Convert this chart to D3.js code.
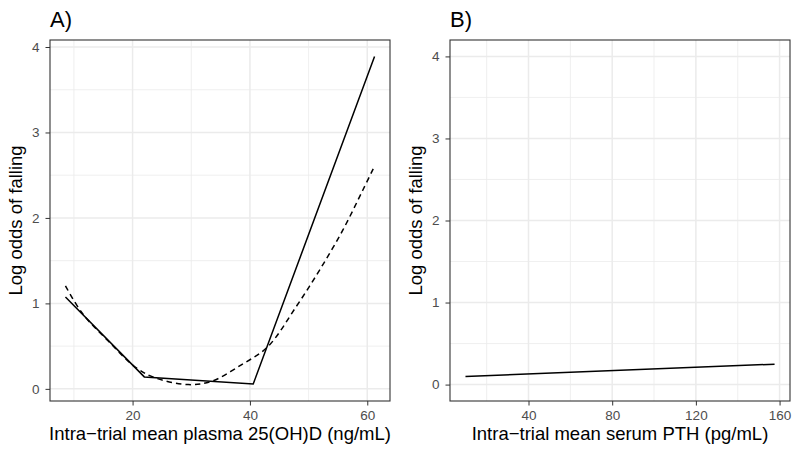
<!DOCTYPE html>
<html>
<head>
<meta charset="utf-8">
<script src="https://cdn.jsdelivr.net/npm/d3@7"></script>
<style>
  html, body { margin: 0; padding: 0; background: #fff; }
  svg { display: block; font-family: "Liberation Sans", Arial, Helvetica, sans-serif; }
</style>
</head>
<body>
<svg id="chart" width="800" height="457"></svg>
<script>
// ---- Data ----
// Panel A: 25(OH)D
const aSolidX = [8.56, 22.0, 40.56, 61.24];
const aSolidY = [1.074, 0.14, 0.056, 3.89];
const aDashX = [8.56, 11.4, 15.9, 20.5, 23.9, 29.5, 33.5, 38.6, 43.0, 47.9, 51.9, 55.85, 59.25, 61.24];
const aDashY = [1.206, 0.887, 0.556, 0.252, 0.128, 0.05, 0.089, 0.284, 0.49, 0.964, 1.393, 1.86, 2.327, 2.607];
const aXTicks = [20, 40, 60];
const aXMinor = [10, 30, 50];
const aYTicks = [0, 1, 2, 3, 4];
const aYMinor = [0.5, 1.5, 2.5, 3.5];
// Panel B: PTH
const bLineX = [9.86, 157.6];
const bLineY = [0.098, 0.249];
const bXTicks = [40, 80, 120, 160];
const bXMinor = [20, 60, 100, 140];
const bYTicks = [0, 1, 2, 3, 4];
const bYMinor = [0.5, 1.5, 2.5, 3.5];
const bYLimits = [0, 4];

const panelTitles = ["A)", "B)"];
const xTitles = ["Intra\u2212trial mean plasma 25(OH)D (ng/mL)", "Intra\u2212trial mean serum PTH (pg/mL)"];
const yTitle = "Log odds of falling";

// ---- Layout ----
const svg = d3.select("#chart");
const pTop = 40, pBottom = 401;
const panels = [
  { left: 50, right: 390 },
  { left: 450, right: 790 }
];

function expand(ext, f = 0.05) {
  const d = (ext[1] - ext[0]) * f;
  return [ext[0] - d, ext[1] + d];
}

function drawPanel(p, cfg) {
  const x = d3.scaleLinear().domain(cfg.xDomain).range([p.left, p.right]);
  const y = d3.scaleLinear().domain(cfg.yDomain).range([pBottom, pTop]);
  const g = svg.append("g");

  g.append("rect").attr("x", p.left).attr("y", pTop)
    .attr("width", p.right - p.left).attr("height", pBottom - pTop)
    .attr("fill", "#fff");

  // minor grid
  g.selectAll(".gxm").data(cfg.xMinor).join("line")
    .attr("x1", d => x(d)).attr("x2", d => x(d)).attr("y1", pTop).attr("y2", pBottom)
    .attr("stroke", "#EBEBEB").attr("stroke-width", 0.8);
  g.selectAll(".gym").data(cfg.yMinor).join("line")
    .attr("y1", d => y(d)).attr("y2", d => y(d)).attr("x1", p.left).attr("x2", p.right)
    .attr("stroke", "#EBEBEB").attr("stroke-width", 0.8);
  // major grid
  g.selectAll(".gx").data(cfg.xTicks).join("line")
    .attr("x1", d => x(d)).attr("x2", d => x(d)).attr("y1", pTop).attr("y2", pBottom)
    .attr("stroke", "#EBEBEB").attr("stroke-width", 1.5);
  g.selectAll(".gy").data(cfg.yTicks).join("line")
    .attr("y1", d => y(d)).attr("y2", d => y(d)).attr("x1", p.left).attr("x2", p.right)
    .attr("stroke", "#EBEBEB").attr("stroke-width", 1.5);

  // lines
  cfg.series.forEach(s => {
    const pts = s.x.map((v, i) => [v, s.y[i]]);
    const line = d3.line().x(d => x(d[0])).y(d => y(d[1]));
    if (s.smooth) line.curve(d3.curveCatmullRom.alpha(0.5));
    g.append("path").datum(pts).attr("d", line)
      .attr("fill", "none").attr("stroke", "#000").attr("stroke-width", 1.5)
      .attr("stroke-dasharray", s.dash || null);
  });

  // axes
  const xAxis = d3.axisBottom(x).tickValues(cfg.xTicks).tickSize(4.5).tickPadding(4.5).tickFormat(d3.format("d"));
  const yAxis = d3.axisLeft(y).tickValues(cfg.yTicks).tickSize(4.5).tickPadding(6).tickFormat(d3.format("d"));
  const gx = g.append("g").attr("transform", `translate(0,${pBottom})`).call(xAxis);
  const gy = g.append("g").attr("transform", `translate(${p.left},0)`).call(yAxis);
  [gx, gy].forEach(a => {
    a.select(".domain").remove();
    a.selectAll(".tick line").attr("stroke", "#333333").attr("stroke-width", 1);
    a.selectAll(".tick text").attr("fill", "#4D4D4D").attr("font-size", 13.5)
      .attr("font-family", "Liberation Sans, Arial, sans-serif");
  });

  // border
  g.append("rect").attr("x", p.left).attr("y", pTop)
    .attr("width", p.right - p.left).attr("height", pBottom - pTop)
    .attr("fill", "none").attr("stroke", "#333333").attr("stroke-width", 1.1);

  // titles
  g.append("text").attr("x", p.left).attr("y", 26.5)
    .attr("font-size", 22).attr("fill", "#000").text(cfg.title);
  g.append("text").attr("x", (p.left + p.right) / 2).attr("y", 439.5)
    .attr("text-anchor", "middle").attr("font-size", 18.5).attr("fill", "#000").text(cfg.xTitle);
  g.append("text")
    .attr("transform", `translate(${p.left - 28.3},${(pTop + pBottom) / 2}) rotate(-90)`)
    .attr("text-anchor", "middle").attr("font-size", 18.5).attr("fill", "#000").text(yTitle);
}

const aXDomain = expand(d3.extent([...aSolidX, ...aDashX]));
const aYDomain = expand(d3.extent([...aSolidY, ...aDashY]));
drawPanel(panels[0], {
  xDomain: aXDomain, yDomain: aYDomain,
  xTicks: aXTicks, xMinor: aXMinor, yTicks: aYTicks, yMinor: aYMinor,
  series: [
    { x: aSolidX, y: aSolidY },
    { x: aDashX, y: aDashY, dash: "5.5,4", smooth: true }
  ],
  title: panelTitles[0], xTitle: xTitles[0]
});

const bXDomain = expand(d3.extent(bLineX));
const bYDomain = expand(bYLimits);
drawPanel(panels[1], {
  xDomain: bXDomain, yDomain: bYDomain,
  xTicks: bXTicks, xMinor: bXMinor, yTicks: bYTicks, yMinor: bYMinor,
  series: [ { x: bLineX, y: bLineY } ],
  title: panelTitles[1], xTitle: xTitles[1]
});
</script>
</body>
</html>
